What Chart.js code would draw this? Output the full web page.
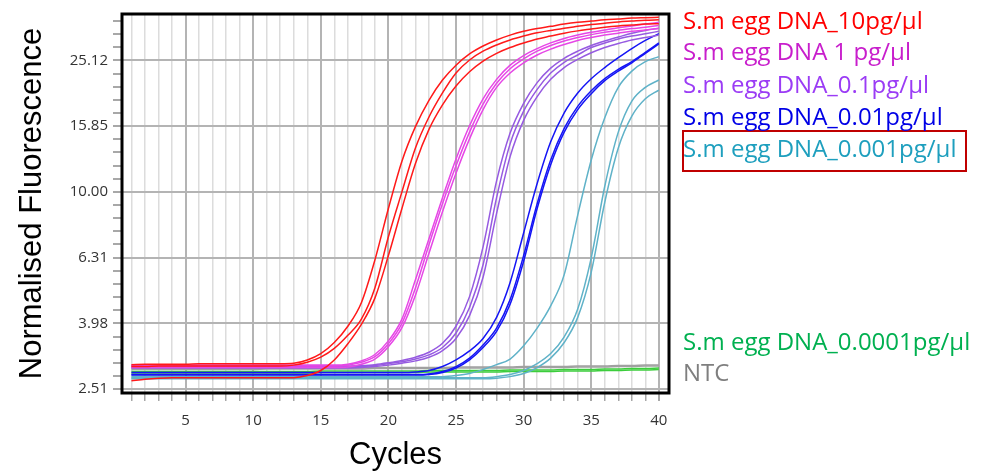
<!DOCTYPE html>
<html>
<head>
<meta charset="utf-8">
<title>S.m egg DNA qPCR</title>
<script src="https://cdn.jsdelivr.net/npm/chart.js@4.4.1/dist/chart.umd.min.js"></script>
<style>
  body { margin: 0; background: #fff; }
  #wrap { position: relative; width: 984px; height: 474px; }
  .key { position: absolute; left: 683px; font: 24px "Open Sans", sans-serif; line-height: 24px; white-space: nowrap; }
  #mark { position: absolute; left: 682px; top: 130px; width: 281px; height: 38px; border: 2px solid #c00000; }
</style>
</head>
<body>
<div id="wrap">
  <canvas id="qpcr" width="984" height="474"></canvas>
  <div id="mark"></div>
</div>
<script>
// cycles on the x axis
const cycles = [1, 2, 3, 4, 5, 6, 7, 8, 9, 10, 11, 12, 13, 14, 15, 16, 17, 18, 19, 20,
                21, 22, 23, 24, 25, 26, 27, 28, 29, 30, 31, 32, 33, 34, 35, 36, 37, 38, 39, 40];

// y axis tick values and their labels (log scale)
const yTickValues = [2.51, 3.98, 6.31, 10.00, 15.85, 25.12];
const yTickLabels = ['2.51', '3.98', '6.31', '10.00', '15.85', '25.12'];
const xTickLabels = ['5', '10', '15', '20', '25', '30', '35', '40'];

// normalised fluorescence, one array per replicate
const redA = [2.98, 2.99, 2.99, 2.99, 2.99, 3.00, 3.00, 3.00, 3.00, 3.00,
              3.00, 3.00, 3.01, 3.08, 3.22, 3.48, 3.90, 4.60, 6.20, 8.90,
              12.4, 15.8, 19.0, 21.9, 24.3, 26.3, 27.8, 29.0, 30.0, 30.8,
              31.4, 31.9, 32.4, 32.8, 33.1, 33.4, 33.6, 33.8, 33.9, 34.0];
const redB = [2.94, 2.94, 2.95, 2.95, 2.95, 2.95, 2.95, 2.95, 2.95, 2.95,
              2.95, 2.95, 2.97, 3.03, 3.14, 3.34, 3.66, 4.10, 5.10, 7.30,
              10.0, 13.6, 16.9, 20.0, 23.0, 25.2, 26.8, 28.0, 29.0, 29.8,
              30.5, 31.0, 31.5, 31.9, 32.3, 32.6, 32.9, 33.1, 33.3, 33.4];
const redC = [2.66, 2.69, 2.71, 2.72, 2.72, 2.72, 2.72, 2.72, 2.72, 2.72,
              2.72, 2.72, 2.72, 2.76, 2.86, 3.08, 3.45, 3.95, 4.75, 6.40,
              8.90, 12.2, 15.5, 18.4, 21.0, 23.2, 25.0, 26.4, 27.5, 28.4,
              29.2, 29.8, 30.4, 30.9, 31.3, 31.7, 32.0, 32.2, 32.4, 32.5];

const magA = [2.97, 2.97, 2.97, 2.97, 2.97, 2.97, 2.97, 2.97, 2.97, 2.97,
              2.97, 2.97, 2.97, 2.97, 2.97, 2.97, 2.99, 3.06, 3.20, 3.52,
              4.10, 5.40, 7.20, 9.60, 12.6, 15.9, 19.2, 22.0, 24.3, 26.0,
              27.3, 28.4, 29.3, 30.0, 30.6, 31.1, 31.6, 32.0, 32.4, 32.8];
const magB = [2.95, 2.95, 2.95, 2.95, 2.95, 2.95, 2.95, 2.95, 2.95, 2.95,
              2.95, 2.95, 2.95, 2.95, 2.95, 2.95, 2.97, 3.03, 3.15, 3.45,
              3.98, 5.10, 6.90, 9.20, 12.0, 15.2, 18.5, 21.4, 23.7, 25.4,
              26.8, 27.9, 28.8, 29.5, 30.1, 30.6, 31.0, 31.4, 31.7, 32.1];
const magC = [2.92, 2.92, 2.92, 2.92, 2.92, 2.92, 2.92, 2.92, 2.92, 2.92,
              2.92, 2.92, 2.92, 2.92, 2.92, 2.92, 2.93, 2.99, 3.10, 3.38,
              3.86, 4.85, 6.50, 8.70, 11.4, 14.5, 17.8, 20.8, 23.0, 24.7,
              26.1, 27.2, 28.1, 28.9, 29.5, 30.0, 30.4, 30.8, 31.1, 31.4];

const purA = [2.95, 2.95, 2.95, 2.95, 2.95, 2.95, 2.95, 2.95, 2.95, 2.95,
              2.95, 2.95, 2.95, 2.95, 2.95, 2.95, 2.95, 2.96, 2.98, 3.02,
              3.07, 3.14, 3.25, 3.46, 3.90, 4.80, 6.80, 10.8, 15.1, 18.6,
              21.5, 23.8, 25.5, 26.8, 27.9, 28.8, 29.6, 30.4, 31.0, 31.5];
const purB = [2.93, 2.93, 2.93, 2.93, 2.93, 2.93, 2.93, 2.93, 2.93, 2.93,
              2.93, 2.93, 2.93, 2.93, 2.93, 2.93, 2.93, 2.94, 2.96, 3.00,
              3.04, 3.10, 3.19, 3.36, 3.72, 4.45, 6.00, 9.60, 14.0, 17.6,
              20.5, 23.0, 24.8, 26.1, 27.5, 28.4, 29.2, 29.8, 30.3, 30.8];
const purC = [2.91, 2.91, 2.91, 2.91, 2.91, 2.91, 2.91, 2.91, 2.91, 2.91,
              2.91, 2.91, 2.91, 2.91, 2.91, 2.91, 2.91, 2.92, 2.94, 2.97,
              3.01, 3.06, 3.14, 3.29, 3.58, 4.20, 5.50, 8.60, 12.8, 16.5,
              19.5, 22.0, 23.9, 25.3, 26.5, 27.5, 28.3, 29.0, 29.5, 30.0];

const blueA = [2.82, 2.82, 2.82, 2.82, 2.82, 2.82, 2.82, 2.82, 2.82, 2.82,
               2.82, 2.82, 2.82, 2.82, 2.82, 2.82, 2.82, 2.82, 2.82, 2.82,
               2.82, 2.83, 2.86, 2.94, 3.08, 3.28, 3.58, 4.15, 5.30, 7.50,
               10.6, 14.2, 17.4, 20.0, 22.1, 23.9, 25.6, 27.3, 28.9, 30.3];
const blueB = [2.78, 2.78, 2.78, 2.78, 2.78, 2.78, 2.78, 2.78, 2.78, 2.78,
               2.78, 2.78, 2.78, 2.78, 2.78, 2.78, 2.78, 2.78, 2.78, 2.78,
               2.78, 2.78, 2.79, 2.84, 2.94, 3.12, 3.42, 3.85, 4.70, 6.40,
               9.20, 12.5, 15.6, 18.2, 20.3, 22.1, 23.6, 24.9, 26.6, 28.4];
const blueC = [2.77, 2.77, 2.77, 2.77, 2.77, 2.77, 2.77, 2.77, 2.77, 2.77,
               2.77, 2.77, 2.77, 2.77, 2.77, 2.77, 2.77, 2.77, 2.77, 2.77,
               2.77, 2.77, 2.78, 2.82, 2.91, 3.08, 3.36, 3.76, 4.55, 6.15,
               8.90, 12.1, 15.2, 17.8, 19.9, 21.8, 23.3, 24.7, 26.4, 28.2];

const cyanA = [2.74, 2.74, 2.74, 2.74, 2.74, 2.74, 2.74, 2.74, 2.74, 2.74,
               2.74, 2.74, 2.74, 2.74, 2.74, 2.74, 2.74, 2.74, 2.74, 2.74,
               2.74, 2.74, 2.74, 2.74, 2.76, 2.80, 2.88, 2.98, 3.10, 3.40,
               3.85, 4.50, 5.60, 8.50, 12.5, 16.8, 20.8, 23.3, 24.9, 25.8];
const cyanB = [2.72, 2.72, 2.72, 2.72, 2.72, 2.72, 2.72, 2.72, 2.72, 2.72,
               2.72, 2.72, 2.72, 2.72, 2.72, 2.72, 2.72, 2.72, 2.72, 2.72,
               2.72, 2.72, 2.72, 2.72, 2.72, 2.72, 2.72, 2.74, 2.78, 2.86,
               3.00, 3.22, 3.62, 4.40, 6.30, 10.4, 15.2, 18.9, 20.8, 21.9];
const cyanC = [2.70, 2.70, 2.70, 2.70, 2.70, 2.70, 2.70, 2.70, 2.70, 2.70,
               2.70, 2.70, 2.70, 2.70, 2.70, 2.70, 2.70, 2.70, 2.70, 2.70,
               2.70, 2.70, 2.70, 2.70, 2.70, 2.70, 2.70, 2.71, 2.74, 2.80,
               2.92, 3.12, 3.48, 4.15, 5.70, 9.30, 13.6, 17.0, 19.2, 20.4];

const greenA = [2.84, 2.84, 2.84, 2.84, 2.84, 2.84, 2.84, 2.84, 2.84, 2.84,
                2.84, 2.84, 2.84, 2.84, 2.85, 2.85, 2.85, 2.85, 2.85, 2.85,
                2.85, 2.85, 2.86, 2.86, 2.86, 2.86, 2.86, 2.86, 2.87, 2.87,
                2.87, 2.87, 2.88, 2.88, 2.88, 2.89, 2.89, 2.90, 2.90, 2.91];
const greenB = [2.81, 2.81, 2.81, 2.81, 2.81, 2.81, 2.81, 2.81, 2.81, 2.81,
                2.81, 2.81, 2.81, 2.81, 2.82, 2.82, 2.82, 2.82, 2.82, 2.82,
                2.82, 2.82, 2.83, 2.83, 2.83, 2.83, 2.83, 2.83, 2.84, 2.84,
                2.84, 2.84, 2.85, 2.85, 2.85, 2.86, 2.86, 2.87, 2.87, 2.88];

const ntcA = [2.90, 2.90, 2.90, 2.90, 2.90, 2.90, 2.90, 2.90, 2.90, 2.90,
              2.91, 2.91, 2.91, 2.91, 2.91, 2.91, 2.91, 2.91, 2.92, 2.92,
              2.92, 2.92, 2.92, 2.92, 2.93, 2.93, 2.93, 2.93, 2.93, 2.94,
              2.94, 2.94, 2.94, 2.95, 2.95, 2.95, 2.96, 2.96, 2.97, 2.97];
const ntcB = [2.88, 2.88, 2.88, 2.88, 2.88, 2.88, 2.88, 2.88, 2.88, 2.88,
              2.89, 2.89, 2.89, 2.89, 2.89, 2.89, 2.89, 2.89, 2.90, 2.90,
              2.90, 2.90, 2.90, 2.90, 2.91, 2.91, 2.91, 2.91, 2.91, 2.92,
              2.92, 2.92, 2.92, 2.93, 2.93, 2.93, 2.94, 2.94, 2.95, 2.95];

// legend text on the right
const legendLabels = ['S.m egg DNA_10pg/µl', 'S.m egg DNA 1 pg/µl', 'S.m egg DNA_0.1pg/µl',
                      'S.m egg DNA_0.01pg/µl', 'S.m egg DNA_0.001pg/µl', 'S.m egg DNA_0.0001pg/µl', 'NTC'];
const legendColors = ['#ff0000', '#c81ecc', '#9b3cf5', '#0000e6', '#1e9fbe', '#00b050', '#7f7f7f'];
const legendTops = [8, 39, 72, 104, 136, 329, 360];

const wrap = document.getElementById('wrap');
legendLabels.forEach((t, i) => {
    const d = document.createElement('div');
    d.className = 'key';
    d.textContent = t;
    d.style.color = legendColors[i];
    d.style.top = legendTops[i] + 'px';
    wrap.appendChild(d);
});

const lineColors = {
    red: 'rgb(255,25,25)',
    mag: 'rgb(230,70,230)',
    pur: 'rgb(150,90,225)',
    blue: 'rgb(20,20,245)',
    cyan: 'rgb(95,178,200)',
    green: 'rgb(60,205,60)',
    ntc: 'rgb(160,160,160)'
};
const series = [
    [redA, 'red'], [redB, 'red'], [redC, 'red'],
    [magA, 'mag'], [magB, 'mag'], [magC, 'mag'],
    [purA, 'pur'], [purB, 'pur'], [purC, 'pur'],
    [blueA, 'blue'], [blueB, 'blue'], [blueC, 'blue'],
    [cyanA, 'cyan'], [cyanB, 'cyan'], [cyanC, 'cyan'],
    [greenA, 'green'], [greenB, 'green'],
    [ntcA, 'ntc'], [ntcB, 'ntc']
];

const frame = {
    id: 'frame',
    afterDraw(chart) {
        const {ctx, chartArea: a} = chart;
        ctx.save();
        ctx.strokeStyle = '#000';
        ctx.lineWidth = 3;
        ctx.strokeRect(a.left, a.top, a.right - a.left, a.bottom - a.top);
        ctx.restore();
    }
};

const tickFont = {family: '"Open Sans", sans-serif', size: 15};
const titleFont = {family: '"Liberation Sans", Arial, sans-serif', size: 31};

new Chart(document.getElementById('qpcr'), {
    type: 'line',
    data: {
        labels: cycles,
        datasets: series.map(([d, c]) => ({
            data: d,
            borderColor: lineColors[c],
            borderWidth: 1.5,
            pointRadius: 0,
            cubicInterpolationMode: 'monotone',
            fill: false
        }))
    },
    options: {
        responsive: false,
        animation: false,
        devicePixelRatio: 1,
        layout: {padding: {left: 0, top: 10, right: 315, bottom: 0}},
        plugins: {legend: {display: false}, tooltip: {enabled: false}},
        scales: {
            x: {
                type: 'linear',
                min: 0.3,
                max: 40.75,
                afterFit: s => { s.height = 81; },
                afterBuildTicks: s => { s.ticks = cycles.map(v => ({value: v})); },
                border: {display: false},
                grid: {
                    color: c => (c.tick && c.tick.value % 5 === 0) ? '#b4b4b4' : '#dcdcdc',
                    lineWidth: c => (c.tick && c.tick.value % 5 === 0) ? 2 : 1.5,
                    tickColor: '#a8a8a8',
                    tickLength: 8
                },
                ticks: {
                    autoSkip: false,
                    maxRotation: 0,
                    padding: 11,
                    color: '#333',
                    font: tickFont,
                    callback: v => xTickLabels.includes(String(v)) ? String(v) : ''
                },
                title: {display: true, text: 'Cycles', color: '#000', font: titleFont, padding: {top: 0, bottom: 0}}
            },
            y: {
                type: 'logarithmic',
                min: 2.443,
                max: 34.78,
                afterFit: s => { s.width = 122; },
                afterBuildTicks: s => {
                    const t = [];
                    yTickValues.forEach((v, i) => {
                        t.push({value: v});
                        const next = i < yTickValues.length - 1 ? yTickValues[i + 1] : v * 1.585;
                        for (let k = 1; k < 5; k++) {
                            const m = v * Math.pow(next / v, k / 5);
                            if (m < 34.78) t.push({value: m});
                        }
                    });
                    s.ticks = t;
                },
                border: {display: false},
                grid: {
                    color: c => (c.tick && yTickValues.includes(c.tick.value)) ? '#b4b4b4' : 'rgba(0,0,0,0)',
                    lineWidth: 2,
                    tickColor: '#a8a8a8',
                    tickLength: 9
                },
                ticks: {
                    autoSkip: false,
                    padding: 5,
                    color: '#333',
                    font: tickFont,
                    callback: v => {
                        const k = yTickValues.indexOf(v);
                        return k >= 0 ? yTickLabels[k] : '';
                    }
                },
                title: {display: true, text: 'Normalised Fluorescence', color: '#000', font: titleFont, padding: {top: 14, bottom: 0}}
            }
        }
    },
    plugins: [frame]
});
</script>
</body>
</html>
